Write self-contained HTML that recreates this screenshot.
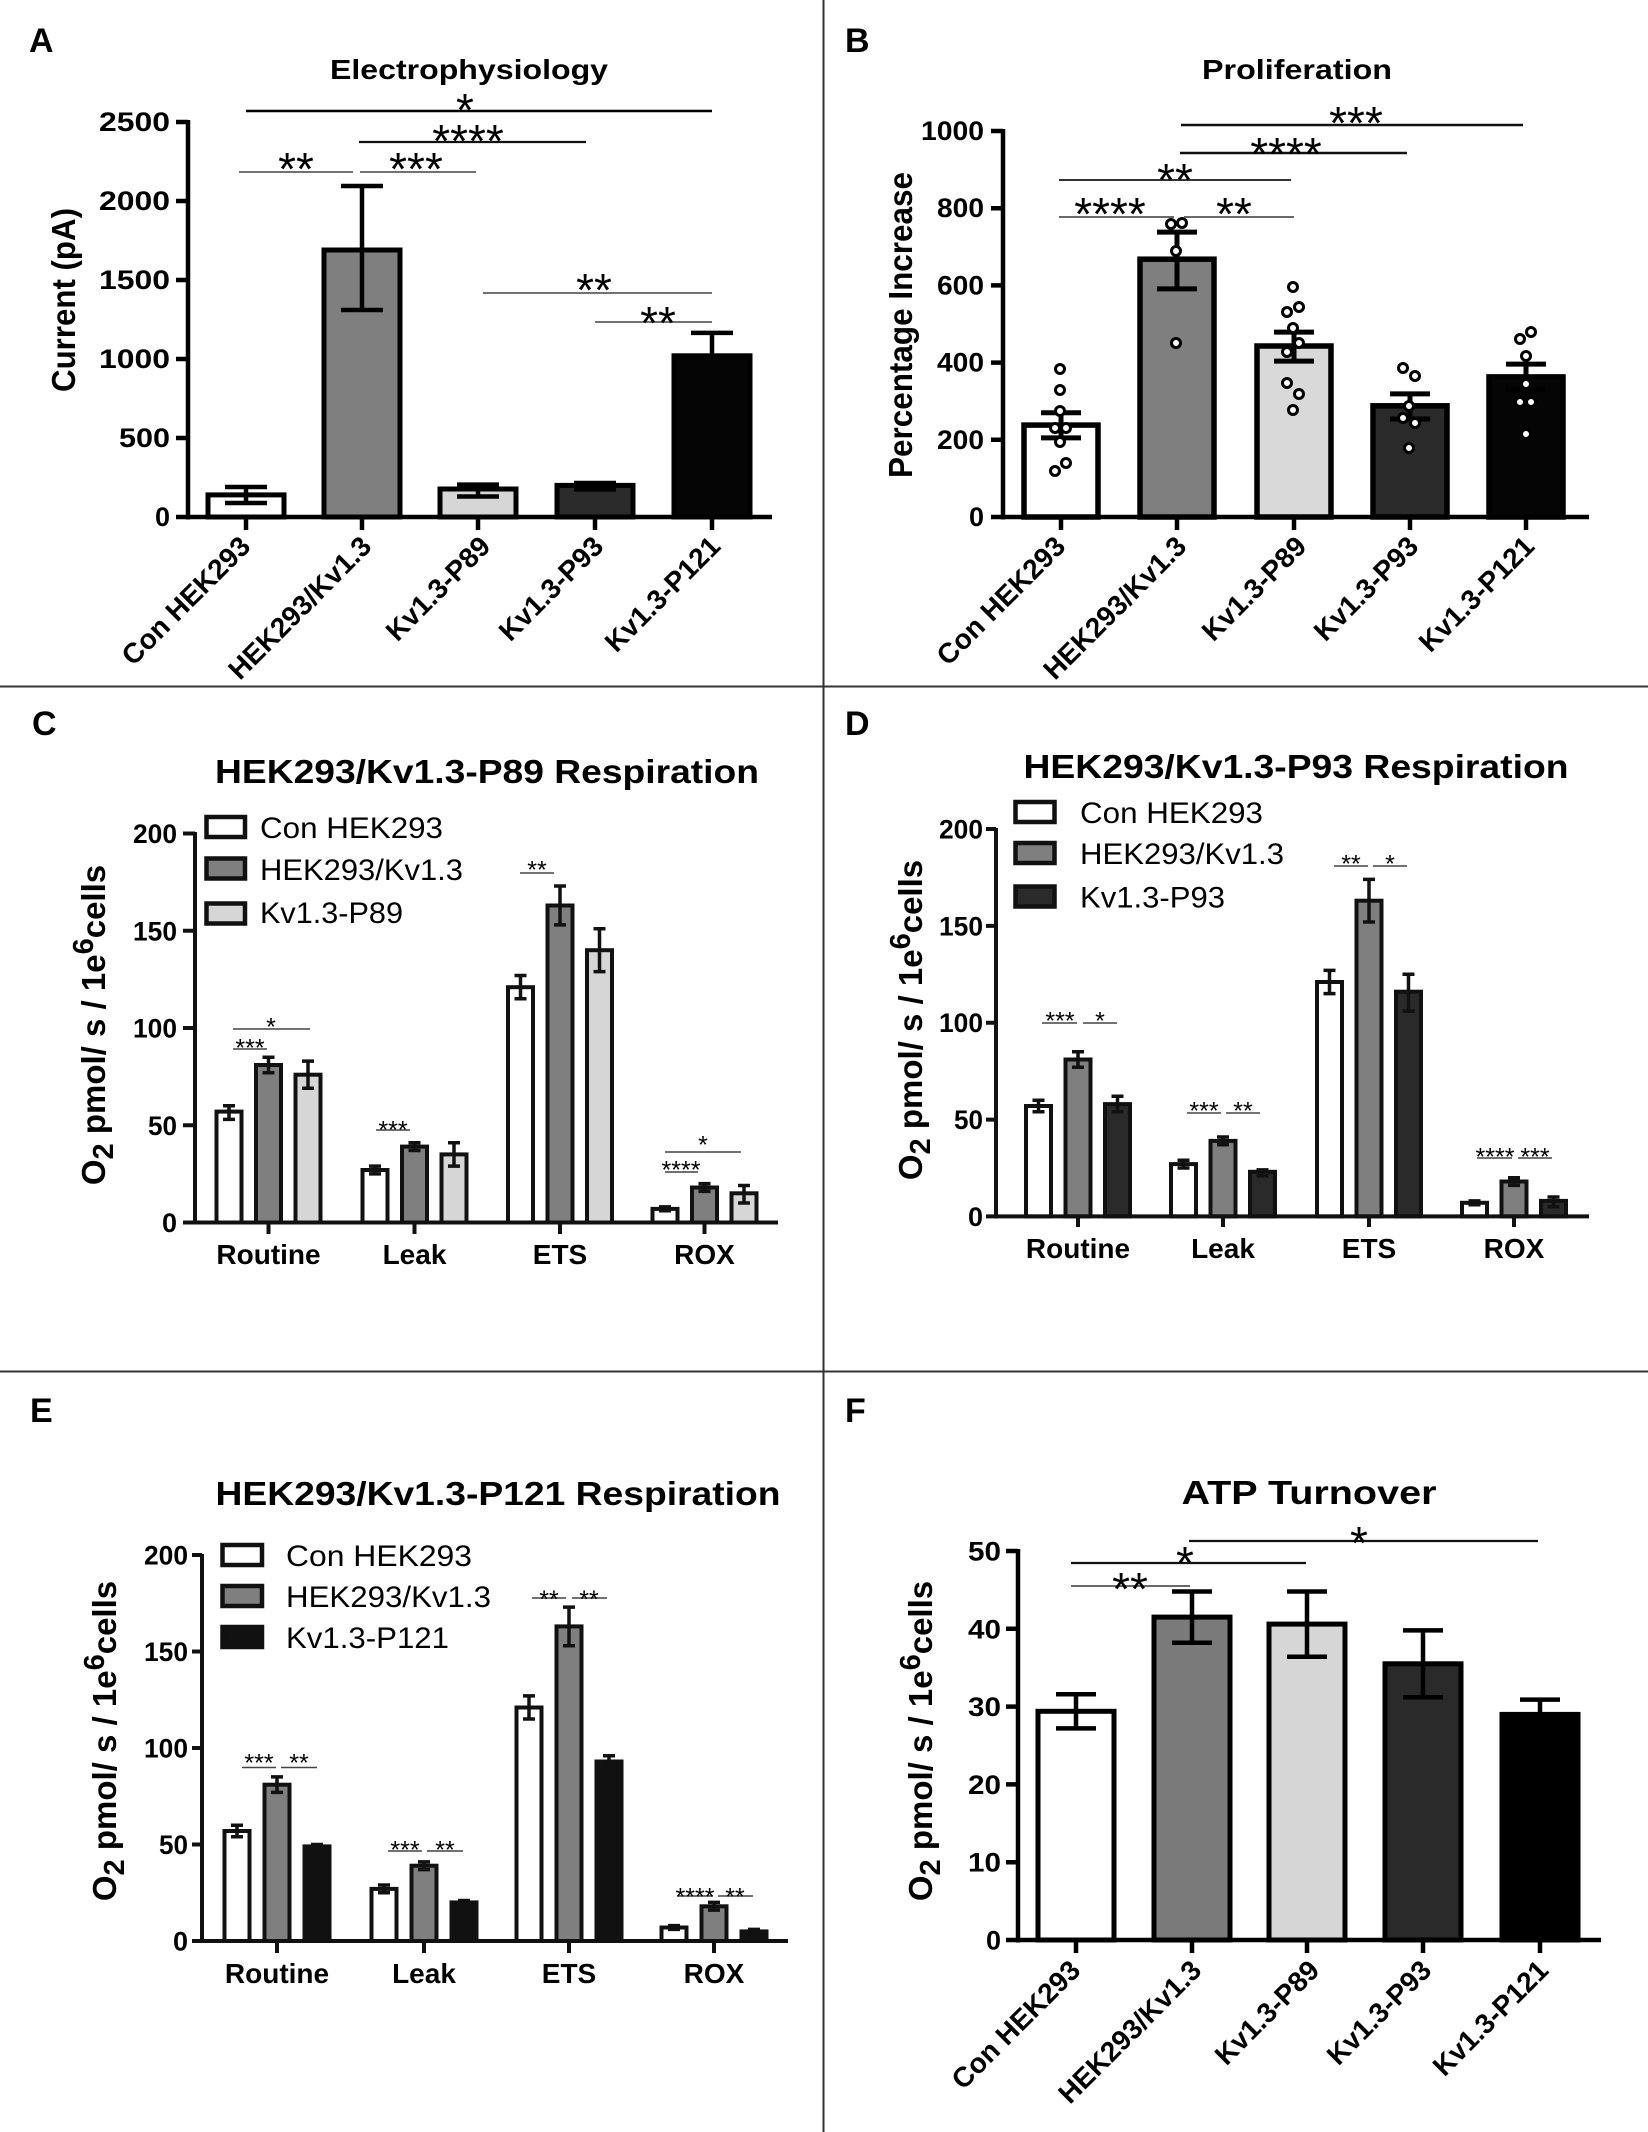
<!DOCTYPE html>
<html><head><meta charset="utf-8"><style>
html,body{margin:0;padding:0;background:#fff}
svg{display:block}
text{font-family:"Liberation Sans",Arial,sans-serif;fill:#000}
.pl{font-size:34px;font-weight:bold}
.tk{font-size:27px;font-weight:bold;text-anchor:end}
.xl{font-size:28px;font-weight:bold;text-anchor:end}
.cat{font-size:28px;font-weight:bold;text-anchor:middle}
.ttl{font-weight:bold;text-anchor:middle}
.bs{font-size:46px;text-anchor:middle}
.ss{font-size:25px;text-anchor:middle}
.lg{font-size:30px}
.yl{font-size:33px;font-weight:bold;text-anchor:middle}
</style></head><body>
<svg width="1648" height="2132" viewBox="0 0 1648 2132" xmlns="http://www.w3.org/2000/svg">
<rect width="1648" height="2132" fill="#fff"/>
<!-- dividers -->
<path d="M823.5 0V2132M0 686.5H1648M0 1371.5H1648" stroke="#333" stroke-width="2" fill="none"/>

<!-- ================= PANEL A ================= -->
<text class="pl" x="29" y="52">A</text>
<text class="ttl" x="469" y="79" font-size="28" textLength="278" lengthAdjust="spacingAndGlyphs">Electrophysiology</text>
<text class="yl" font-size="27" transform="translate(75,300) rotate(-90)" textLength="184" lengthAdjust="spacingAndGlyphs">Current (pA)</text>
<g stroke="#000" stroke-width="5">
<rect x="208" y="494.9" width="76" height="22.1" fill="#fff"/>
<rect x="324" y="250" width="76" height="267" fill="#7f7f7f"/>
<rect x="440" y="489" width="76" height="28" fill="#d6d6d6"/>
<rect x="557" y="485.4" width="76" height="31.6" fill="#2a2a2a"/>
<rect x="674" y="355.8" width="76" height="161.2" fill="#050505"/>
</g>
<path d="M246 487V503M225 487H267M225 503H267M362 186V310M341 186H383M341 310H383M478 484.6V496.5M457 484.6H499M457 496.5H499M595 483V489.4M574 483H616M574 489.4H616M712 332.9V356M691 332.9H733" stroke="#000" stroke-width="4.5" fill="none"/>
<path d="M188 120V519.5M186 517H772M176 122H188M176 201H188M176 280H188M176 359H188M176 438H188M176 517H188M246 517V530M362 517V530M478 517V530M595 517V530M712 517V530" stroke="#000" stroke-width="4.5" fill="none"/>
<text class="tk" x="170" y="131" textLength="71" lengthAdjust="spacingAndGlyphs">2500</text>
<text class="tk" x="170" y="210" textLength="71" lengthAdjust="spacingAndGlyphs">2000</text>
<text class="tk" x="170" y="289" textLength="71" lengthAdjust="spacingAndGlyphs">1500</text>
<text class="tk" x="170" y="368" textLength="71" lengthAdjust="spacingAndGlyphs">1000</text>
<text class="tk" x="170" y="447" textLength="51" lengthAdjust="spacingAndGlyphs">500</text>
<text class="tk" x="170" y="526">0</text>
<text class="xl" transform="translate(252,548) rotate(-45)">Con HEK293</text>
<text class="xl" transform="translate(373,548) rotate(-45)">HEK293/Kv1.3</text>
<text class="xl" transform="translate(492,548) rotate(-45)">Kv1.3-P89</text>
<text class="xl" transform="translate(605,548) rotate(-45)">Kv1.3-P93</text>
<text class="xl" transform="translate(722,548) rotate(-45)">Kv1.3-P121</text>
<path d="M246 111H712" stroke="#000" stroke-width="2.5"/>
<path d="M359 142H586" stroke="#111" stroke-width="2.2"/>
<path d="M239 172H353M360 172H476M483 293H712M595 322H712" stroke="#444" stroke-width="1.6"/>
<text class="bs" x="465" y="126">*</text>
<text class="bs" x="468" y="157">****</text>
<text class="bs" x="296" y="185">**</text>
<text class="bs" x="416" y="185">***</text>
<text class="bs" x="594" y="306">**</text>
<text class="bs" x="658" y="339">**</text>

<!-- ================= PANEL B ================= -->
<text class="pl" x="845" y="52">B</text>
<text class="ttl" x="1297" y="79" font-size="28" textLength="190" lengthAdjust="spacingAndGlyphs">Proliferation</text>
<text class="yl" font-size="28" transform="translate(912,325) rotate(-90)" textLength="306" lengthAdjust="spacingAndGlyphs">Percentage Increase</text>
<g stroke="#000" stroke-width="5.5">
<rect x="1024" y="425.1" width="74" height="91.9" fill="#fff"/>
<rect x="1140" y="259.2" width="74" height="257.8" fill="#7f7f7f"/>
<rect x="1257" y="346" width="74" height="171" fill="#d9d9d9"/>
<rect x="1373" y="405.8" width="74" height="111.2" fill="#2a2a2a"/>
<rect x="1489" y="376.9" width="74" height="140.1" fill="#050505"/>
</g>
<path d="M1061 412.8V437.9M1041 412.8H1081M1041 437.9H1081M1177 232.1V288.9M1157 232.1H1197M1157 288.9H1197M1294 332.1V361.1M1274 332.1H1314M1274 361.1H1314M1410 393.9V419M1390 393.9H1430M1390 419H1430M1526 364.1V389.6M1506 364.1H1546M1506 389.6H1546" stroke="#000" stroke-width="5" fill="none"/>
<path d="M1003 129V519.5M1001 517H1589M991 131H1003M991 208.2H1003M991 285.4H1003M991 362.6H1003M991 439.8H1003M991 517H1003M1061 517V530M1177 517V530M1294 517V530M1410 517V530M1526 517V530" stroke="#000" stroke-width="4.5" fill="none"/>
<text class="tk" x="984" y="140" textLength="63" lengthAdjust="spacingAndGlyphs">1000</text>
<text class="tk" x="984" y="217.2" textLength="47" lengthAdjust="spacingAndGlyphs">800</text>
<text class="tk" x="984" y="294.4" textLength="47" lengthAdjust="spacingAndGlyphs">600</text>
<text class="tk" x="984" y="371.6" textLength="47" lengthAdjust="spacingAndGlyphs">400</text>
<text class="tk" x="984" y="448.8" textLength="47" lengthAdjust="spacingAndGlyphs">200</text>
<text class="tk" x="984" y="526">0</text>
<g fill="#fff" stroke="#000" stroke-width="3">
<circle cx="1060" cy="369" r="4.5"/><circle cx="1060" cy="390" r="4.5"/><circle cx="1060" cy="411" r="4.5"/><circle cx="1055" cy="428" r="4.5"/><circle cx="1066" cy="428" r="4.5"/><circle cx="1060" cy="442" r="4.5"/><circle cx="1055" cy="471" r="4.5"/><circle cx="1066" cy="463" r="4.5"/>
<circle cx="1171" cy="224" r="4.5"/><circle cx="1182" cy="223" r="4.5"/><circle cx="1176" cy="251" r="4.5"/><circle cx="1176" cy="343" r="4.5"/>
<circle cx="1293" cy="287" r="4.5"/><circle cx="1299" cy="307" r="4.5"/><circle cx="1287" cy="312" r="4.5"/><circle cx="1293" cy="328" r="4.5"/><circle cx="1299" cy="343" r="4.5"/><circle cx="1287" cy="352" r="4.5"/><circle cx="1287" cy="383" r="4.5"/><circle cx="1299" cy="394" r="4.5"/><circle cx="1293" cy="410" r="4.5"/>
<circle cx="1403" cy="368" r="4.5"/><circle cx="1415" cy="376" r="4.5"/><circle cx="1409" cy="406" r="4.5"/><circle cx="1403" cy="418" r="4.5"/><circle cx="1415" cy="423" r="4.5"/><circle cx="1409" cy="448" r="4.5"/>
<circle cx="1520" cy="339" r="4.5"/><circle cx="1531" cy="332" r="4.5"/><circle cx="1526" cy="356" r="4.5"/><circle cx="1526" cy="384" r="4.5"/><circle cx="1520" cy="402" r="4.5"/><circle cx="1531" cy="402" r="4.5"/><circle cx="1526" cy="434" r="4.5"/>
</g>
<text class="xl" transform="translate(1067,548) rotate(-45)">Con HEK293</text>
<text class="xl" transform="translate(1188,548) rotate(-45)">HEK293/Kv1.3</text>
<text class="xl" transform="translate(1308,548) rotate(-45)">Kv1.3-P89</text>
<text class="xl" transform="translate(1420,548) rotate(-45)">Kv1.3-P93</text>
<text class="xl" transform="translate(1536,548) rotate(-45)">Kv1.3-P121</text>
<path d="M1181 125H1523M1180 153H1407" stroke="#111" stroke-width="2.4"/>
<path d="M1059 180H1291" stroke="#333" stroke-width="2"/>
<path d="M1059 217H1174M1184 217H1294" stroke="#555" stroke-width="1.8"/>
<text class="bs" x="1356" y="139">***</text>
<text class="bs" x="1286" y="170">****</text>
<text class="bs" x="1175" y="196">**</text>
<text class="bs" x="1110" y="230">****</text>
<text class="bs" x="1234" y="230">**</text>

<!-- ================= PANEL C ================= -->
<text class="pl" x="32" y="735">C</text>
<text class="ttl" x="487" y="783" font-size="33" textLength="544" lengthAdjust="spacingAndGlyphs">HEK293/Kv1.3-P89 Respiration</text>
<text class="yl" transform="translate(105,1025) rotate(-90)">O<tspan font-size="29" dy="8">2</tspan><tspan dy="-8"> pmol/ s / 1e</tspan><tspan font-size="29" dy="-12">6</tspan><tspan dy="12">cells</tspan></text>
<g stroke="#111" stroke-width="4">
<rect x="216.5" y="1111.6" width="25" height="110.9" fill="#fff"/>
<rect x="256" y="1065" width="25" height="157.5" fill="#7f7f7f"/>
<rect x="295.5" y="1074.7" width="25" height="147.8" fill="#d6d6d6"/>
<rect x="362.5" y="1170" width="25" height="52.5" fill="#fff"/>
<rect x="402" y="1146.6" width="25" height="75.9" fill="#7f7f7f"/>
<rect x="441.5" y="1154.4" width="25" height="68.1" fill="#d6d6d6"/>
<rect x="508" y="987.2" width="25" height="235.3" fill="#fff"/>
<rect x="547.5" y="905.5" width="25" height="317" fill="#7f7f7f"/>
<rect x="587" y="950.2" width="25" height="272.3" fill="#d6d6d6"/>
<rect x="652.5" y="1208.9" width="25" height="13.6" fill="#fff"/>
<rect x="692" y="1187.5" width="25" height="35" fill="#7f7f7f"/>
<rect x="731.5" y="1193.3" width="25" height="29.2" fill="#d6d6d6"/>
</g>
<path d="M229 1105.8V1119.4M223 1105.8H235M223 1119.4H235M268.5 1057.2V1072.7M262.5 1057.2H274.5M262.5 1072.7H274.5M308 1061.1V1088.3M302 1061.1H314M302 1088.3H314M375 1166.1V1173.9M369 1166.1H381M369 1173.9H381M414.5 1142.8V1150.5M408.5 1142.8H420.5M408.5 1150.5H420.5M454 1142.8V1166.1M448 1142.8H460M448 1166.1H460M520.5 975.5V998.8M514.5 975.5H526.5M514.5 998.8H526.5M560 886V924.9M554 886H566M554 924.9H566M599.5 928.8V971.6M593.5 928.8H605.5M593.5 971.6H605.5M665 1206.9V1210.8M659 1206.9H671M659 1210.8H671M704.5 1183.6V1191.4M698.5 1183.6H710.5M698.5 1191.4H710.5M744 1185.5V1203M738 1185.5H750M738 1203H750" stroke="#111" stroke-width="3.5" fill="none"/>
<path d="M195 832V1224.5M193 1222.5H778M183 833.5H195M183 930.75H195M183 1028H195M183 1125.25H195M183 1222.5H195M268.5 1222.5V1234M414.5 1222.5V1234M560 1222.5V1234M704.5 1222.5V1234" stroke="#111" stroke-width="4" fill="none"/>
<text class="tk" x="177" y="843" textLength="44" lengthAdjust="spacingAndGlyphs">200</text>
<text class="tk" x="177" y="940.25" textLength="44" lengthAdjust="spacingAndGlyphs">150</text>
<text class="tk" x="177" y="1037.5" textLength="44" lengthAdjust="spacingAndGlyphs">100</text>
<text class="tk" x="177" y="1134.75" textLength="29" lengthAdjust="spacingAndGlyphs">50</text>
<text class="tk" x="177" y="1232">0</text>
<text class="cat" x="268.5" y="1264">Routine</text>
<text class="cat" x="414.5" y="1264">Leak</text>
<text class="cat" x="560" y="1264">ETS</text>
<text class="cat" x="704.5" y="1264">ROX</text>
<g stroke="#111" stroke-width="4.5">
<rect x="206.5" y="817" width="38.5" height="20" fill="#fff"/>
<rect x="206.5" y="858.5" width="38.5" height="20" fill="#7f7f7f"/>
<rect x="206.5" y="903.5" width="38.5" height="20" fill="#d6d6d6"/>
</g>
<text class="lg" x="260" y="838" textLength="183" lengthAdjust="spacingAndGlyphs">Con HEK293</text>
<text class="lg" x="260" y="880" textLength="203" lengthAdjust="spacingAndGlyphs">HEK293/Kv1.3</text>
<text class="lg" x="260" y="923" textLength="143" lengthAdjust="spacingAndGlyphs">Kv1.3-P89</text>
<path d="M233 1029H310M233 1049H267M376 1130H410M520 873H554M665 1152H741M665 1172H698" stroke="#444" stroke-width="1.5"/>
<text class="ss" x="271" y="1035.5">*</text>
<text class="ss" x="250" y="1056.5">***</text>
<text class="ss" x="393" y="1138.5">***</text>
<text class="ss" x="537" y="878.5">**</text>
<text class="ss" x="703" y="1153.5">*</text>
<text class="ss" x="681" y="1178.5">****</text>

<!-- ================= PANEL D ================= -->
<text class="pl" x="845" y="735">D</text>
<text class="ttl" x="1296" y="778" font-size="33" textLength="545" lengthAdjust="spacingAndGlyphs">HEK293/Kv1.3-P93 Respiration</text>
<text class="yl" transform="translate(922,1020) rotate(-90)">O<tspan font-size="29" dy="8">2</tspan><tspan dy="-8"> pmol/ s / 1e</tspan><tspan font-size="29" dy="-12">6</tspan><tspan dy="12">cells</tspan></text>
<g stroke="#111" stroke-width="4">
<rect x="1026" y="1106" width="25" height="110.4" fill="#fff"/>
<rect x="1065.5" y="1059.5" width="25" height="156.9" fill="#7f7f7f"/>
<rect x="1105" y="1104.1" width="25" height="112.3" fill="#2a2a2a"/>
<rect x="1171" y="1164.1" width="25" height="52.3" fill="#fff"/>
<rect x="1210.5" y="1140.9" width="25" height="75.5" fill="#7f7f7f"/>
<rect x="1250" y="1171.8" width="25" height="44.6" fill="#2a2a2a"/>
<rect x="1317" y="982" width="25" height="234.4" fill="#fff"/>
<rect x="1356.5" y="900.7" width="25" height="315.7" fill="#7f7f7f"/>
<rect x="1396" y="991.7" width="25" height="224.7" fill="#2a2a2a"/>
<rect x="1462" y="1202.8" width="25" height="13.6" fill="#fff"/>
<rect x="1501.5" y="1181.5" width="25" height="34.9" fill="#7f7f7f"/>
<rect x="1541" y="1200.9" width="25" height="15.5" fill="#2a2a2a"/>
</g>
<path d="M1038.5 1100.2V1111.8M1032.5 1100.2H1044.5M1032.5 1111.8H1044.5M1078 1051.8V1067.3M1072 1051.8H1084M1072 1067.3H1084M1117.5 1096.3V1111.8M1111.5 1096.3H1123.5M1111.5 1111.8H1123.5M1183.5 1160.2V1168M1177.5 1160.2H1189.5M1177.5 1168H1189.5M1223 1137V1144.7M1217 1137H1229M1217 1144.7H1229M1262.5 1169.9V1175.7M1256.5 1169.9H1268.5M1256.5 1175.7H1268.5M1329.5 970.4V993.6M1323.5 970.4H1335.5M1323.5 993.6H1335.5M1369 879.4V922M1363 879.4H1375M1363 922H1375M1408.5 974.3V1011.1M1402.5 974.3H1414.5M1402.5 1011.1H1414.5M1474.5 1200.9V1204.8M1468.5 1200.9H1480.5M1468.5 1204.8H1480.5M1514 1177.7V1185.4M1508 1177.7H1520M1508 1185.4H1520M1553.5 1197V1206.7M1547.5 1197H1559.5M1547.5 1206.7H1559.5" stroke="#111" stroke-width="3.5" fill="none"/>
<path d="M996 828V1218.5M994 1216.4H1589M986 829H996M986 925.9H996M986 1022.7H996M986 1119.6H996M986 1216.4H996M1078 1216.4V1227M1223 1216.4V1227M1369 1216.4V1227M1514 1216.4V1227" stroke="#111" stroke-width="4" fill="none"/>
<text class="tk" x="983" y="838.5" textLength="44" lengthAdjust="spacingAndGlyphs">200</text>
<text class="tk" x="983" y="935.4" textLength="44" lengthAdjust="spacingAndGlyphs">150</text>
<text class="tk" x="983" y="1032.2" textLength="44" lengthAdjust="spacingAndGlyphs">100</text>
<text class="tk" x="983" y="1129.1" textLength="29" lengthAdjust="spacingAndGlyphs">50</text>
<text class="tk" x="983" y="1225.9">0</text>
<text class="cat" x="1078" y="1258">Routine</text>
<text class="cat" x="1223" y="1258">Leak</text>
<text class="cat" x="1369" y="1258">ETS</text>
<text class="cat" x="1514" y="1258">ROX</text>
<g stroke="#111" stroke-width="4.5">
<rect x="1015.5" y="802" width="39" height="20" fill="#fff"/>
<rect x="1015.5" y="843" width="39" height="20" fill="#7f7f7f"/>
<rect x="1015.5" y="886.5" width="39" height="20" fill="#2a2a2a"/>
</g>
<text class="lg" x="1080" y="823" textLength="183" lengthAdjust="spacingAndGlyphs">Con HEK293</text>
<text class="lg" x="1080" y="864" textLength="204" lengthAdjust="spacingAndGlyphs">HEK293/Kv1.3</text>
<text class="lg" x="1080" y="907.5" textLength="145" lengthAdjust="spacingAndGlyphs">Kv1.3-P93</text>
<path d="M1042 1023H1077M1083 1023H1117M1187 1113H1221M1226 1113H1260M1334 866H1368M1373 866H1407M1477 1158H1512M1518 1158H1552" stroke="#444" stroke-width="1.5"/>
<text class="ss" x="1060" y="1029.5">***</text>
<text class="ss" x="1100" y="1029.5">*</text>
<text class="ss" x="1204" y="1119.5">***</text>
<text class="ss" x="1243" y="1119.5">**</text>
<text class="ss" x="1351" y="872.5">**</text>
<text class="ss" x="1390" y="872.5">*</text>
<text class="ss" x="1495" y="1165.5">****</text>
<text class="ss" x="1535" y="1165.5">***</text>

<!-- ================= PANEL E ================= -->
<text class="pl" x="30" y="1422">E</text>
<text class="ttl" x="498" y="1505" font-size="33" textLength="565" lengthAdjust="spacingAndGlyphs">HEK293/Kv1.3-P121 Respiration</text>
<text class="yl" transform="translate(116,1741) rotate(-90)">O<tspan font-size="29" dy="8">2</tspan><tspan dy="-8"> pmol/ s / 1e</tspan><tspan font-size="29" dy="-12">6</tspan><tspan dy="12">cells</tspan></text>
<g stroke="#111" stroke-width="4">
<rect x="224.5" y="1831" width="25" height="110" fill="#fff"/>
<rect x="264.5" y="1784.7" width="25" height="156.3" fill="#7f7f7f"/>
<rect x="304.5" y="1846.4" width="25" height="94.6" fill="#111"/>
<rect x="371.5" y="1888.9" width="25" height="52.1" fill="#fff"/>
<rect x="411.5" y="1865.7" width="25" height="75.3" fill="#7f7f7f"/>
<rect x="451.5" y="1902.4" width="25" height="38.6" fill="#111"/>
<rect x="516.5" y="1707.5" width="25" height="233.5" fill="#fff"/>
<rect x="556.5" y="1626.4" width="25" height="314.6" fill="#7f7f7f"/>
<rect x="596.5" y="1761.5" width="25" height="179.5" fill="#111"/>
<rect x="661.5" y="1927.5" width="25" height="13.5" fill="#fff"/>
<rect x="701.5" y="1906.3" width="25" height="34.7" fill="#7f7f7f"/>
<rect x="741.5" y="1931.4" width="25" height="9.6" fill="#111"/>
</g>
<path d="M237 1825.2V1836.8M231 1825.2H243M231 1836.8H243M277 1776.9V1792.4M271 1776.9H283M271 1792.4H283M317 1844.5V1848.4M311 1844.5H323M311 1848.4H323M384 1885V1892.8M378 1885H390M378 1892.8H390M424 1861.9V1869.6M418 1861.9H430M418 1869.6H430M464 1900.5V1904.3M458 1900.5H470M458 1904.3H470M529 1695.9V1719M523 1695.9H535M523 1719H535M569 1607.1V1645.7M563 1607.1H575M563 1645.7H575M609 1755.7V1765.4M603 1755.7H615M603 1765.4H615M674 1925.6V1929.4M668 1925.6H680M668 1929.4H680M714 1902.4V1910.1M708 1902.4H720M708 1910.1H720M754 1929.4V1933.3M748 1929.4H760M748 1933.3H760" stroke="#111" stroke-width="3.5" fill="none"/>
<path d="M202 1554V1943M200 1941H788M192 1555H202M192 1651.5H202M192 1748H202M192 1844.5H202M192 1941H202M277 1941V1953M424 1941V1953M569 1941V1953M714 1941V1953" stroke="#111" stroke-width="4" fill="none"/>
<text class="tk" x="188" y="1564.5" textLength="44" lengthAdjust="spacingAndGlyphs">200</text>
<text class="tk" x="188" y="1661" textLength="44" lengthAdjust="spacingAndGlyphs">150</text>
<text class="tk" x="188" y="1757.5" textLength="44" lengthAdjust="spacingAndGlyphs">100</text>
<text class="tk" x="188" y="1854" textLength="29" lengthAdjust="spacingAndGlyphs">50</text>
<text class="tk" x="188" y="1950.5">0</text>
<text class="cat" x="277" y="1983">Routine</text>
<text class="cat" x="424" y="1983">Leak</text>
<text class="cat" x="569" y="1983">ETS</text>
<text class="cat" x="714" y="1983">ROX</text>
<g stroke="#111" stroke-width="4.5">
<rect x="222.5" y="1545" width="39.5" height="20" fill="#fff"/>
<rect x="222.5" y="1586" width="39.5" height="20" fill="#7f7f7f"/>
<rect x="222.5" y="1627" width="39.5" height="20" fill="#111"/>
</g>
<text class="lg" x="286" y="1566" textLength="186" lengthAdjust="spacingAndGlyphs">Con HEK293</text>
<text class="lg" x="286" y="1607" textLength="205" lengthAdjust="spacingAndGlyphs">HEK293/Kv1.3</text>
<text class="lg" x="286" y="1648" textLength="163" lengthAdjust="spacingAndGlyphs">Kv1.3-P121</text>
<path d="M242 1767.5H276M281 1767.5H317M388 1851H422M427 1851H463M532 1598H566M572 1598H607M677 1896H713M718 1896H753" stroke="#444" stroke-width="1.5"/>
<text class="ss" x="259" y="1771.5">***</text>
<text class="ss" x="299" y="1771.5">**</text>
<text class="ss" x="405" y="1858.5">***</text>
<text class="ss" x="445" y="1858.5">**</text>
<text class="ss" x="549" y="1608">**</text>
<text class="ss" x="589" y="1608">**</text>
<text class="ss" x="695" y="1905.5">****</text>
<text class="ss" x="735" y="1905.5">**</text>

<!-- ================= PANEL F ================= -->
<text class="pl" x="845" y="1422">F</text>
<text class="ttl" x="1309" y="1504" font-size="33" textLength="255" lengthAdjust="spacingAndGlyphs">ATP Turnover</text>
<text class="yl" transform="translate(932,1741) rotate(-90)">O<tspan font-size="29" dy="8">2</tspan><tspan dy="-8"> pmol/ s / 1e</tspan><tspan font-size="29" dy="-12">6</tspan><tspan dy="12">cells</tspan></text>
<g stroke="#000" stroke-width="5">
<rect x="1038" y="1711.3" width="76" height="228.7" fill="#fff"/>
<rect x="1154" y="1617.1" width="76" height="322.9" fill="#7a7a7a"/>
<rect x="1269" y="1624.1" width="76" height="315.9" fill="#d6d6d6"/>
<rect x="1385" y="1663.8" width="76" height="276.2" fill="#2a2a2a"/>
<rect x="1502" y="1714.4" width="76" height="225.6" fill="#000"/>
</g>
<path d="M1076 1694.2V1728.4M1056 1694.2H1096M1056 1728.4H1096M1192 1591.5V1642.8M1172 1591.5H1212M1172 1642.8H1212M1307 1591.5V1656.8M1287 1591.5H1327M1287 1656.8H1327M1423 1630.4V1697.3M1403 1630.4H1443M1403 1697.3H1443M1540 1699.6V1714.4M1520 1699.6H1560" stroke="#000" stroke-width="4.5" fill="none"/>
<path d="M1018 1549V1942.5M1016 1940H1601M1006 1551H1018M1006 1628.8H1018M1006 1706.6H1018M1006 1784.4H1018M1006 1862.2H1018M1006 1940H1018M1076 1940V1953M1192 1940V1953M1307 1940V1953M1423 1940V1953M1540 1940V1953" stroke="#000" stroke-width="4.5" fill="none"/>
<text class="tk" x="1001" y="1560.5" textLength="33" lengthAdjust="spacingAndGlyphs">50</text>
<text class="tk" x="1001" y="1638.3" textLength="33" lengthAdjust="spacingAndGlyphs">40</text>
<text class="tk" x="1001" y="1716.1" textLength="33" lengthAdjust="spacingAndGlyphs">30</text>
<text class="tk" x="1001" y="1793.9" textLength="33" lengthAdjust="spacingAndGlyphs">20</text>
<text class="tk" x="1001" y="1871.7" textLength="33" lengthAdjust="spacingAndGlyphs">10</text>
<text class="tk" x="1001" y="1949.5">0</text>
<text class="xl" transform="translate(1082,1972) rotate(-45)">Con HEK293</text>
<text class="xl" transform="translate(1203,1972) rotate(-45)">HEK293/Kv1.3</text>
<text class="xl" transform="translate(1321,1972) rotate(-45)">Kv1.3-P89</text>
<text class="xl" transform="translate(1433,1972) rotate(-45)">Kv1.3-P93</text>
<text class="xl" transform="translate(1550,1972) rotate(-45)">Kv1.3-P121</text>
<path d="M1189 1541H1538M1071 1563H1306" stroke="#111" stroke-width="2.2"/>
<path d="M1071 1586H1190" stroke="#555" stroke-width="1.8"/>
<text class="bs" x="1359" y="1559">*</text>
<text class="bs" x="1185" y="1579">*</text>
<text class="bs" x="1130" y="1605">**</text>
</svg>
</body></html>
